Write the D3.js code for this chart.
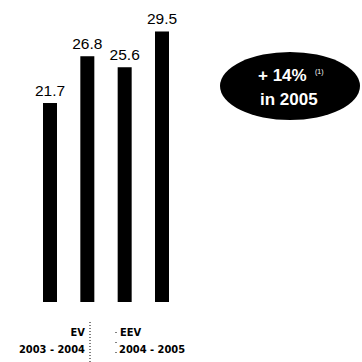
<!DOCTYPE html>
<html>
<head>
<meta charset="utf-8">
<script src="https://cdn.jsdelivr.net/npm/d3@7"></script>
<style>
  html, body { margin: 0; padding: 0; background: #fff; }
  svg { display: block; }
</style>
</head>
<body>
<script>
// Embedded value per period (bars)
const categories = ["EV 2003", "EV 2004", "EEV 2004", "EEV 2005"];
const values = [21.7, 26.8, 25.6, 29.5];
const valueLabels = ["21.7", "26.8", "25.6", "29.5"];
const groupTitles = ["EV", "EEV"];
const groupPeriods = ["2003 - 2004", "2004 - 2005"];
const badgeLines = ["+ 14%", "in 2005"];
const badgeNote = "(1)";

const W = 362, H = 362;
const svg = d3.select("body").append("svg").attr("width", W).attr("height", H);

const x = d3.scalePoint().domain(categories).range([50, 162]);
const y = d3.scaleLinear().domain([0, 30]).range([302, 302 - 30 * 9.17]);
const barW = 14;

svg.selectAll("rect.bar")
  .data(values)
  .join("rect")
  .attr("class", "bar")
  .attr("x", (d, i) => x(categories[i]) - barW / 2)
  .attr("y", d => y(d))
  .attr("width", barW)
  .attr("height", d => y(0) - y(d))
  .attr("fill", "#000");

svg.selectAll("text.val")
  .data(values)
  .join("text")
  .attr("class", "val")
  .attr("x", (d, i) => x(categories[i]))
  .attr("y", d => y(d) - 7)
  .attr("text-anchor", "middle")
  .attr("font-family", "Liberation Sans, Arial, sans-serif")
  .attr("font-size", 15.5)
  .attr("fill", "#000")
  .text((d, i) => valueLabels[i]);

// Group captions below the bars
const capFont = "'Liberation Sans Narrow', 'DejaVu Sans Condensed', sans-serif";
const g1 = svg.append("g").attr("font-family", capFont).attr("font-weight", "bold")
  .attr("font-size", 11).attr("fill", "#000");
g1.append("text").attr("x", 85).attr("y", 336).attr("text-anchor", "end").text(groupTitles[0]);
g1.append("text").attr("x", 85).attr("y", 353).attr("text-anchor", "end").text(groupPeriods[0]);
g1.append("text").attr("x", 120).attr("y", 336).attr("text-anchor", "start").text(groupTitles[1]);
g1.append("text").attr("x", 119).attr("y", 353).attr("text-anchor", "start").text(groupPeriods[1]);

// Dotted separators between the two groups
svg.append("line").attr("x1", 90).attr("x2", 90).attr("y1", 322).attr("y2", 362)
  .attr("stroke", "#000").attr("stroke-width", 1).attr("stroke-dasharray", "1,2");
svg.append("line").attr("x1", 116).attr("x2", 116).attr("y1", 332).attr("y2", 362)
  .attr("stroke", "#000").attr("stroke-width", 1).attr("stroke-dasharray", "1,9");

// Growth badge
const badge = svg.append("g");
badge.append("ellipse").attr("cx", 290).attr("cy", 86).attr("rx", 70).attr("ry", 34).attr("fill", "#000");
const bt = badge.append("g").attr("font-family", "Liberation Sans, Arial, sans-serif")
  .attr("font-weight", "bold").attr("fill", "#fff").attr("text-anchor", "start");
bt.append("text").attr("x", 258).attr("y", 81).attr("font-size", 17).text(badgeLines[0]);
bt.append("text").attr("x", 260).attr("y", 105).attr("font-size", 17).text(badgeLines[1]);
bt.append("text").attr("x", 315).attr("y", 74).attr("font-size", 7).attr("font-weight", "normal").text(badgeNote);
</script>
</body>
</html>
